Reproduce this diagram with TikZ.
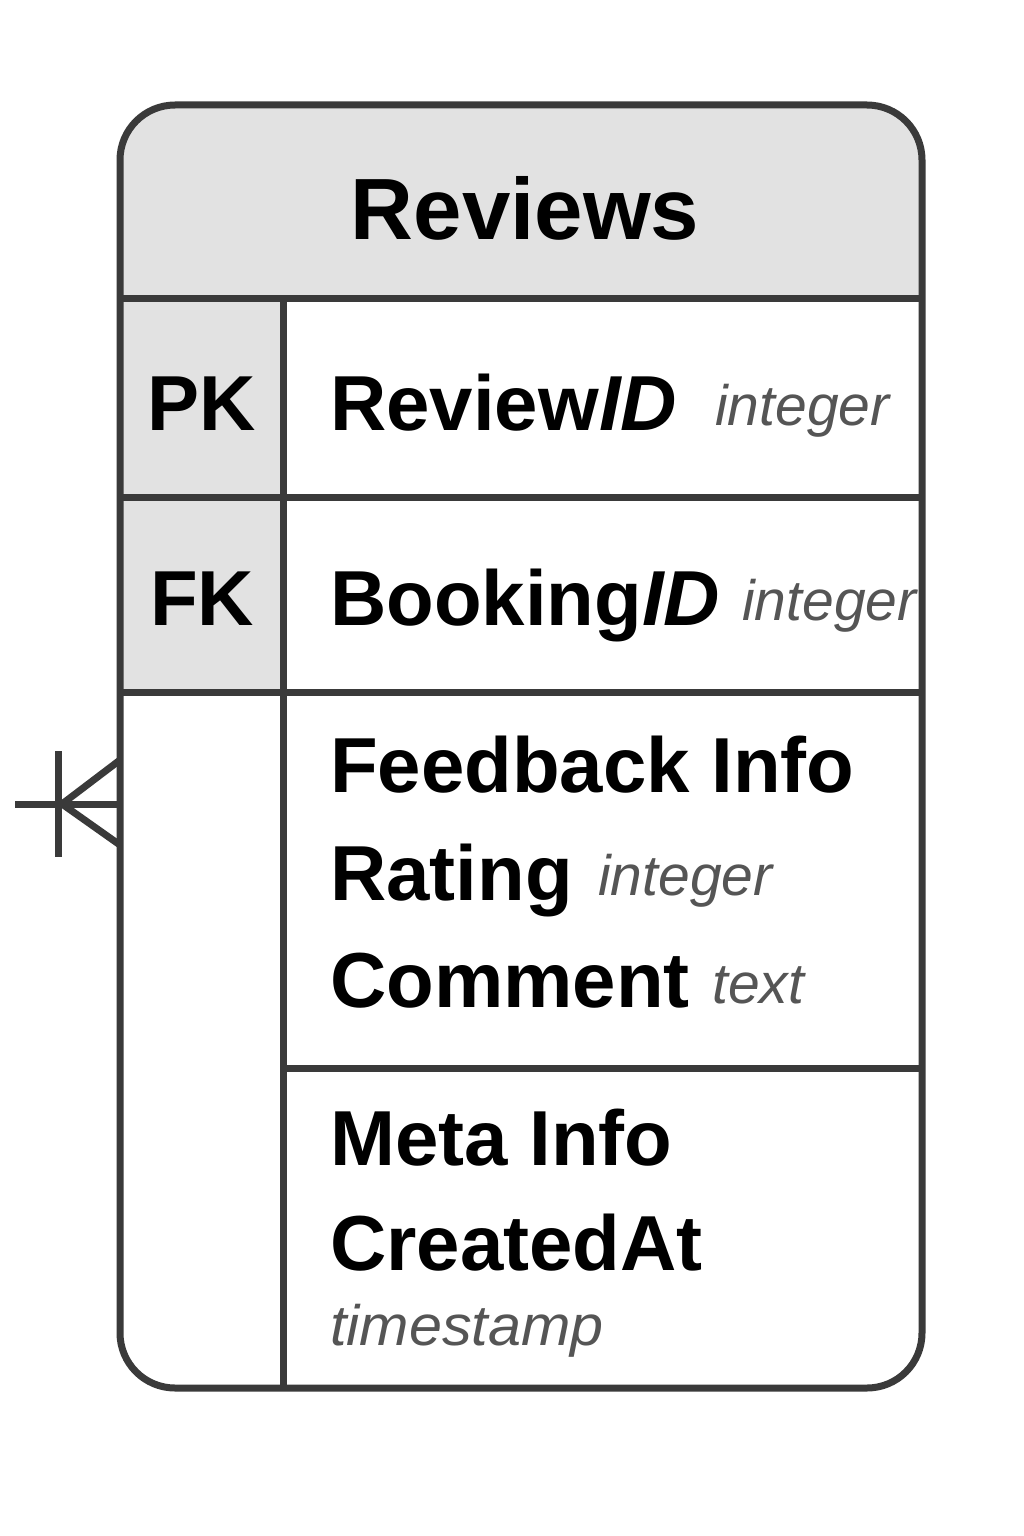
\documentclass[tikz,border=0pt]{standalone}
\usepackage{fontspec}
\setmainfont{Liberation Sans}
\setsansfont{Liberation Sans}
\definecolor{linec}{HTML}{3A3A3A}
\definecolor{headfill}{HTML}{E2E2E2}
\definecolor{typec}{HTML}{555555}
\begin{document}
\begin{tikzpicture}[x=1pt,y=-1pt,
  border/.style={draw=linec,line width=7pt},
  rule/.style={draw=linec,line width=7pt},
  title/.style={anchor=base,inner sep=0pt,font=\fontsize{87}{90}\selectfont\bfseries},
  field/.style={anchor=base west,inner sep=0pt,font=\fontsize{78}{82}\selectfont\bfseries},
  keytxt/.style={anchor=base,inner sep=0pt,font=\fontsize{78}{82}\selectfont\bfseries},
  ftype/.style={anchor=base west,inner sep=0pt,text=typec,font=\fontsize{57}{60}\selectfont\itshape},
  crow/.style={draw=linec,line width=7pt}]
\useasboundingbox (0,0) rectangle (1024,1536);
\fill[white] (0,0) rectangle (1024,1536);
% fills clipped to the rounded box
\begin{scope}
  \clip[rounded corners=55pt] (120,105) rectangle (922,1388);
  \fill[headfill] (100,100) rectangle (940,298);
  \fill[headfill] (100,298) rectangle (283,692);
\end{scope}
% inner rules
\draw[rule] (120,298) -- (922,298);
\draw[rule] (120,497) -- (922,497);
\draw[rule] (120,692) -- (922,692);
\draw[rule] (283,1068) -- (922,1068);
\draw[rule] (283,298) -- (283,1388);
% outer border
\draw[border,rounded corners=55pt] (120,105) rectangle (922,1388);
% texts
\node[title] (ttl) at (525,239) {Reviews};
\node[keytxt] (pk) at (202,430) {PK};
\node[keytxt] (fk) at (202,625) {FK};
\node[field] (f1) at (330,430) {Review\textit{ID}};
\node[ftype] (t1) at (715,425) {integer};
\node[field] (f2) at (330,625) {Booking\textit{ID}};
\node[ftype] (t2) at (742,620) {integer};
\node[field] (g1) at (330,792) {Feedback Info};
\node[field] (g2) at (330,900) {Rating};
\node[ftype] (t3) at (598,895) {integer};
\node[field] (g3) at (330,1007) {Comment};
\node[ftype] (t4) at (712,1003) {text};
\node[field] (m1) at (330,1165) {Meta Info};
\node[field] (m2) at (330,1270) {CreatedAt};
\node[ftype, xscale=1.04] (t5) at (330,1345) {timestamp};
% crow's foot
\coordinate (cfend) at (15,804);
\coordinate (cfwall) at (120,804);
\coordinate (cftop) at (120,760);
\coordinate (cfbot) at (120,845);
\coordinate (cfapex) at (62,804);
\coordinate (barT) at (58,751);
\coordinate (barB) at (58,857);
\draw[crow] (cfend) -- (cfwall);
\draw[crow] (barT) -- (barB);
\draw[crow] (cftop) -- (cfapex) -- (cfbot);
\end{tikzpicture}
\end{document}
